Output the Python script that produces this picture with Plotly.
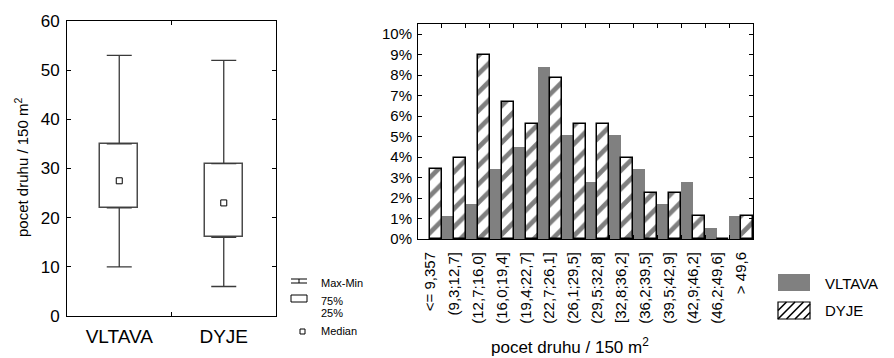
import plotly.graph_objects as go

W, H = 894, 358
FONT = "Liberation Sans, Arial, sans-serif"

# Summary statistics: number of species per 150 m2 plot
rivers = ["VLTAVA", "DYJE"]
box_min = [10, 6]
box_q1 = [22, 16]
box_median = [27.5, 23]
box_q3 = [35, 31]
box_max = [53, 52]

# Frequency distribution of species counts (% of plots)
classes = ["<= 9,357", "(9,3;12,7]", "(12,7;16,0]", "(16,0;19,4]", "(19,4;22,7]",
           "(22,7;26,1]", "(26,1;29,5]", "(29,5;32,8]", "[32,8;36,2]", "(36,2;39,5]",
           "(39,5;42,9]", "(42,9;46,2]", "(46,2;49,6]", "> 49,6"]
vltava_pct = [0, 1.1, 1.7, 3.4, 4.5, 8.4, 5.1, 2.8, 5.1, 3.4, 1.7, 2.8, 0.55, 1.1]
dyje_pct = [3.4, 3.95, 9.0, 6.7, 5.6, 7.85, 5.6, 5.6, 3.95, 2.25, 2.25, 1.1, 0, 1.1]


def px(x):
    return x / W


def py(y):
    return 1 - y / H


fig = go.Figure()

# --- left panel: box plot -------------------------------------------------
fig.add_trace(go.Bar(
    x=rivers, base=box_q1, y=[q3 - q1 for q1, q3 in zip(box_q1, box_q3)],
    width=0.36, marker=dict(color="white", line=dict(color="#4a4a4a", width=1.5)),
    xaxis="x", yaxis="y", showlegend=False, hoverinfo="skip"))

# upper whiskers (Q3 -> max) and lower whiskers (min -> Q1)
fig.add_trace(go.Scatter(
    x=rivers, y=box_q3, mode="markers", marker=dict(size=1, color="rgba(0,0,0,0)"),
    error_y=dict(type="data", symmetric=False,
                 array=[mx - q3 for mx, q3 in zip(box_max, box_q3)],
                 arrayminus=[0, 0], width=12.5, thickness=1.3, color="#3a3a3a"),
    xaxis="x", yaxis="y", showlegend=False, hoverinfo="skip"))
fig.add_trace(go.Scatter(
    x=rivers, y=box_q1, mode="markers", marker=dict(size=1, color="rgba(0,0,0,0)"),
    error_y=dict(type="data", symmetric=False, array=[0, 0],
                 arrayminus=[q1 - mn for q1, mn in zip(box_q1, box_min)],
                 width=12.5, thickness=1.3, color="#3a3a3a"),
    xaxis="x", yaxis="y", showlegend=False, hoverinfo="skip"))

fig.add_trace(go.Scatter(
    x=rivers, y=box_median, mode="markers",
    marker=dict(symbol="square-open", size=6, color="black", line=dict(width=1)),
    xaxis="x", yaxis="y", showlegend=False, hoverinfo="skip"))

# --- right panel: grouped histogram ---------------------------------------
fig.add_trace(go.Bar(
    x=classes, y=vltava_pct, name="VLTAVA",
    marker=dict(color="#808080", line=dict(width=0)),
    xaxis="x2", yaxis="y2", showlegend=False))
fig.add_trace(go.Bar(
    x=classes, y=dyje_pct, name="DYJE",
    marker=dict(color="white", line=dict(color="black", width=1.5),
                pattern=dict(shape="/", fgcolor="black", bgcolor="white",
                             size=13, solidity=0.36)),
    xaxis="x2", yaxis="y2", showlegend=False))

axis_common = dict(showline=True, linecolor="black", linewidth=1, mirror="ticks",
                   ticks="inside", ticklen=4, tickcolor="black", showgrid=False,
                   zeroline=False, automargin=False)

fig.update_layout(
    width=W, height=H, autosize=False,
    margin=dict(l=0, r=0, t=0, b=0, pad=0),
    paper_bgcolor="white", plot_bgcolor="white",
    font=dict(family=FONT, color="black"),
    barmode="group", bargap=0, bargroupgap=0,
    xaxis=dict(domain=[px(67), px(276)], type="category", range=[-0.5, 1.5],
               tickson="boundaries", tickfont=dict(size=19), ticklabelstandoff=3,
               anchor="y", **axis_common),
    yaxis=dict(domain=[py(316), py(21)], range=[0, 60], dtick=10,
               tickfont=dict(size=17), ticklabelstandoff=3, anchor="x", **axis_common),
    xaxis2=dict(domain=[px(418), px(753)], type="category", range=[-0.5, 13.5],
                tickson="boundaries", tickangle=-90, tickfont=dict(size=15),
                ticklabelstandoff=6, anchor="y2", **axis_common),
    yaxis2=dict(domain=[py(239), py(24)], range=[0, 10.5], dtick=1, ticksuffix="%",
                tickfont=dict(size=15), ticklabelstandoff=2, anchor="x2", **axis_common),
)

annotations = [
    dict(text="pocet druhu / 150 m<sup>2</sup>", x=px(22), y=py(168), textangle=-90,
         font=dict(size=15)),
    dict(text="pocet druhu / 150 m<sup>2</sup>", x=px(570), y=py(346),
         font=dict(size=17)),
    # box-plot key
    dict(text="Max-Min", x=px(319), y=py(283), xanchor="left", font=dict(size=11)),
    dict(text="75%", x=px(319), y=py(301), xanchor="left", font=dict(size=11)),
    dict(text="25%", x=px(319), y=py(313), xanchor="left", font=dict(size=11)),
    dict(text="Median", x=px(319), y=py(331), xanchor="left", font=dict(size=11)),
    # histogram key
    dict(text="VLTAVA", x=px(823), y=py(283), xanchor="left", font=dict(size=15)),
    dict(text="DYJE", x=px(823), y=py(310), xanchor="left", font=dict(size=15)),
]
for a in annotations:
    a.update(xref="paper", yref="paper", showarrow=False)
    a.setdefault("xanchor", "center")
    a.setdefault("yanchor", "middle")
fig.update_layout(annotations=annotations)


def line_px(x0, y0, x1, y1, color="black", width=1):
    return dict(type="line", xref="paper", yref="paper", x0=px(x0), y0=py(y0),
                x1=px(x1), y1=py(y1), line=dict(color=color, width=width))


def rect_px(x0, y0, x1, y1, fill, line_color, width=1):
    return dict(type="rect", xref="paper", yref="paper", x0=px(x0), y0=py(y0),
                x1=px(x1), y1=py(y1), fillcolor=fill,
                line=dict(color=line_color, width=width))


shapes = [
    # Max-Min symbol
    line_px(291, 279, 307, 279),
    line_px(299, 279, 299, 283),
    line_px(291, 283, 307, 283),
    # 25%-75% box symbol
    rect_px(291, 295, 307, 302, "white", "black"),
    # median symbol
    rect_px(300, 329, 305, 334, "white", "black"),
    # VLTAVA key
    rect_px(778, 274, 810, 291, "#808080", "#808080", 0),
    # DYJE key
    rect_px(778, 302, 810, 319, "white", "black", 1.2),
]

# diagonal hatching inside the DYJE key
hx0, hy0, hx1, hy1 = 778, 302, 810, 319
step = 8.5
k = hx0 + hy0 + step
while k < hx1 + hy1:
    xa = max(hx0, k - hy1)
    xb = min(hx1, k - hy0)
    if xb > xa:
        shapes.append(line_px(xa, k - xa, xb, k - xb, width=1.6))
    k += step

fig.update_layout(shapes=shapes)

fig.write_html("out.html")
